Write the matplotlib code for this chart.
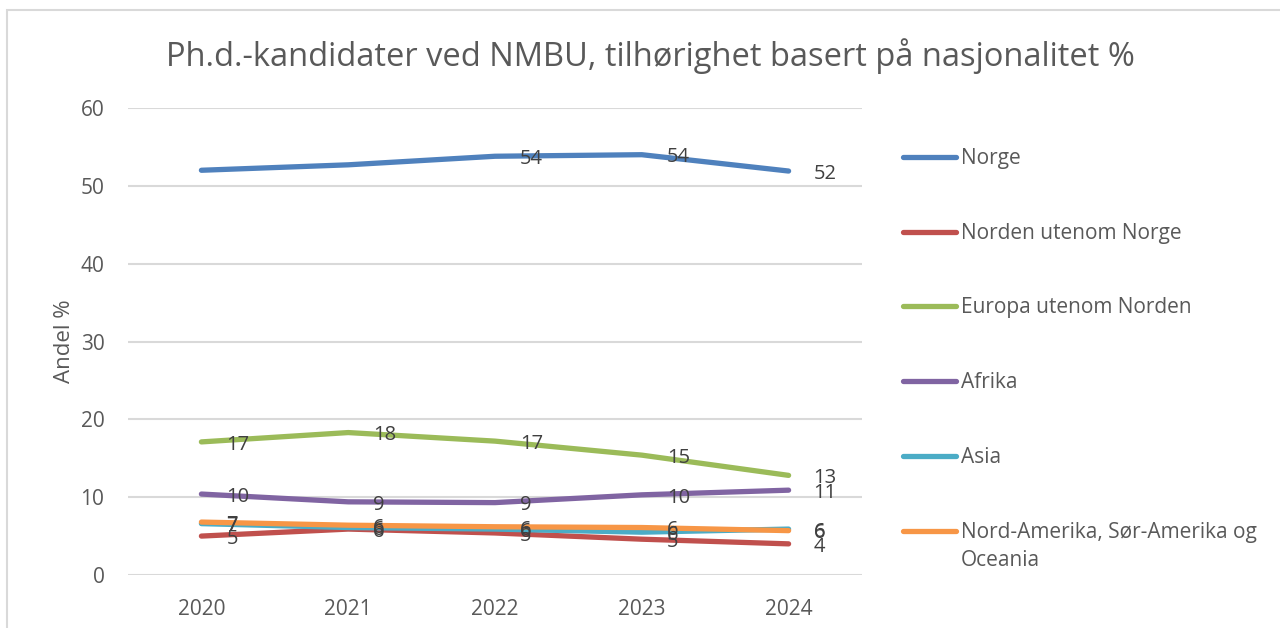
import matplotlib.pyplot as plt
import matplotlib.patches as mpatches
from matplotlib.lines import Line2D

years = ["2020", "2021", "2022", "2023", "2024"]

series_names = [
    "Norge",
    "Norden utenom Norge",
    "Europa utenom Norden",
    "Afrika",
    "Asia",
    "Nord-Amerika, Sør-Amerika og\nOceania",
]
norge = [52.0, 52.7, 53.8, 54.0, 51.9]
norden = [5.0, 5.9, 5.4, 4.6, 4.0]
europa = [17.1, 18.3, 17.2, 15.4, 12.8]
afrika = [10.4, 9.4, 9.3, 10.3, 10.9]
asia = [6.6, 6.1, 5.9, 5.5, 5.9]
amerika = [6.8, 6.4, 6.2, 6.1, 5.7]

# which points carry a data label
label_from = [2, 0, 0, 0, 0, 0]

colors = ["#4F81BD", "#C0504D", "#9BBB59", "#8064A2", "#4BACC6", "#F79646"]

plt.rcParams['font.family'] = ['Open Sans', 'DejaVu Sans']
text_col = "#595959"

W, H = 1280, 628
fig = plt.figure(figsize=(W / 100, H / 100), dpi=100)

def px(x, y):
    return x / W, 1 - y / H

# chart area border
fig.add_artist(mpatches.Rectangle(px(7, 700), 1.0, (700 - 10) / H, transform=fig.transFigure,
                                  fill=False, edgecolor="#D9D9D9", linewidth=1.5))

ax = fig.add_axes([128 / W, 1 - 575 / H, (862 - 128) / W, (575 - 108) / H])

all_series = [norge, norden, europa, afrika, asia, amerika]
x = list(range(len(years)))
for vals, col, start in zip(all_series, colors, label_from):
    ax.plot(x, vals, color=col, linewidth=3.8, solid_capstyle="round", zorder=3)
    for i in range(start, len(vals)):
        ax.annotate(f"{vals[i]:.0f}", (x[i], vals[i]), xytext=(18, -2),
                    textcoords="offset points", ha="left", va="center",
                    fontsize=14.5, color="#404040", zorder=5)

ax.set_xlim(-0.5, len(years) - 0.5)
ax.set_ylim(0, 60)
ax.set_yticks(range(0, 61, 10))
ax.set_xticks(x)
ax.set_xticklabels(years)
ax.grid(axis="y", color="#D9D9D9", linewidth=1.5)
ax.set_axisbelow(True)
for s in ax.spines.values():
    s.set_visible(False)
ax.tick_params(length=0, labelsize=15, colors=text_col)
ax.tick_params(axis="x", pad=17)
ax.tick_params(axis="y", pad=17)
ax.set_ylabel("Andel %", fontsize=16, color=text_col, labelpad=4)

fig.text(*px(650, 56), "Ph.d.-kandidater ved NMBU, tilhørighet basert på nasjonalitet %",
         ha="center", va="center", fontsize=23.5, color=text_col)

# legend
leg_y = [157, 232, 306, 381, 456, 531]
for name, col, ly in zip(series_names, colors, leg_y):
    x0, y0 = px(903, ly)
    x1, _ = px(956, ly)
    fig.add_artist(Line2D([x0, x1], [y0, y0], color=col, linewidth=3.8,
                          solid_capstyle="round", transform=fig.transFigure))
    fig.text(*px(961, ly - 9), name, ha="left", va="top", fontsize=15,
             color=text_col, linespacing=1.45)

fig.savefig("out.png", dpi=100)
